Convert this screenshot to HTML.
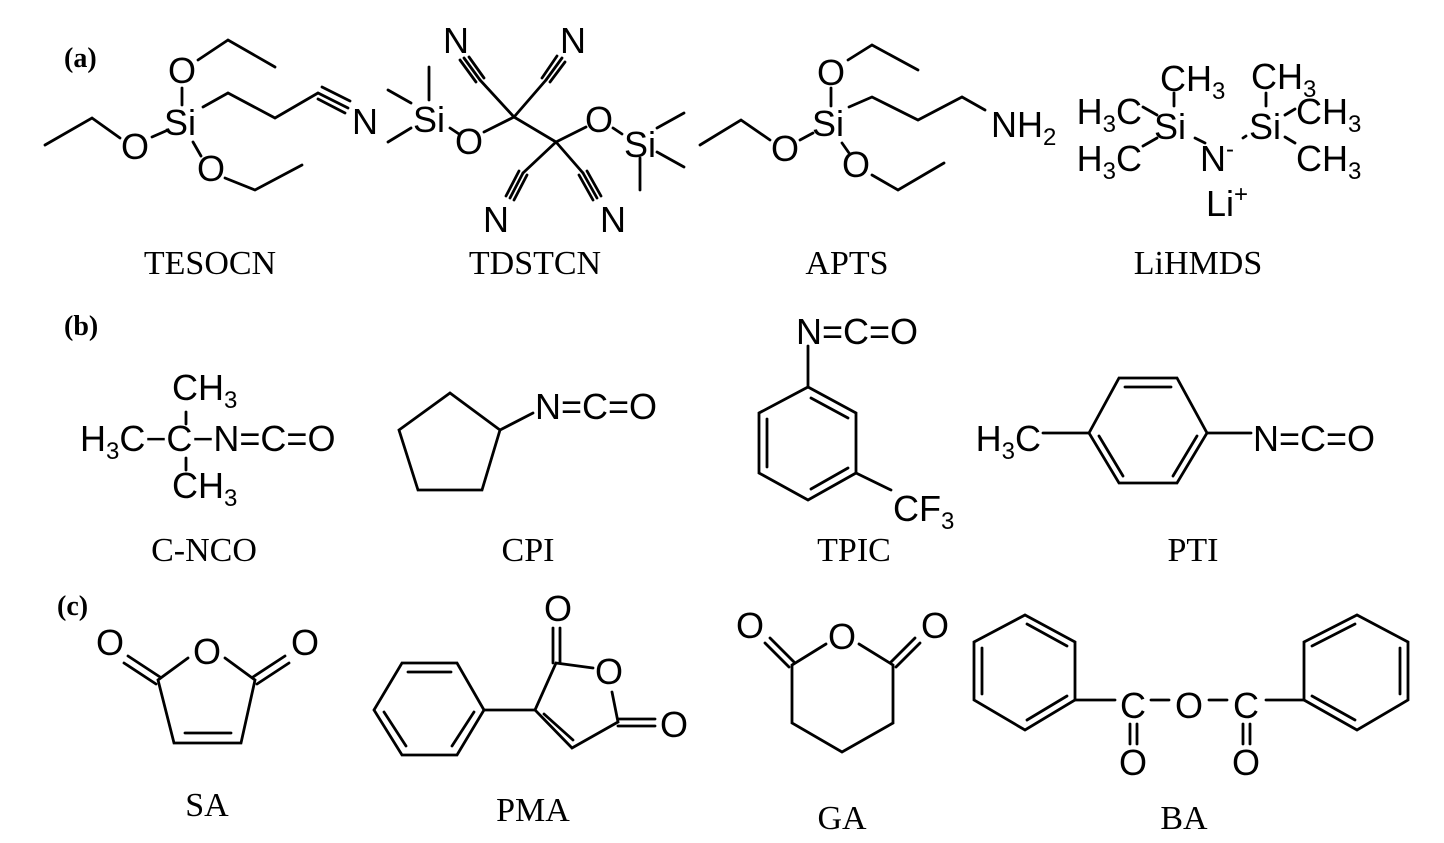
<!DOCTYPE html>
<html><head><meta charset="utf-8"><style>
html,body{margin:0;padding:0;background:#fff;}
svg{display:block}
.a{font-family:"Liberation Sans",Arial,sans-serif;font-size:36px;fill:#000}
.s{font-size:24px}
.l{font-family:"Liberation Serif",serif;font-size:34px;fill:#000}
.b{font-family:"Liberation Serif",serif;font-size:28px;font-weight:bold;fill:#000}
</style></head><body>
<svg width="1444" height="843" viewBox="0 0 1444 843" xmlns="http://www.w3.org/2000/svg">
<g stroke="#000" stroke-width="2.8" fill="none" stroke-linecap="round">
<!-- TESOCN -->
<polyline points="182,88 182,105"/>
<polyline points="198,60 228,40 275,67"/>
<polyline points="203,107 228,93 275,118 318,93 348,108"/>
<line x1="322" y1="87" x2="350" y2="101"/><line x1="318" y1="99" x2="345" y2="113"/>
<polyline points="152,137 168,130"/>
<polyline points="120,138 92,118 45,145"/>
<polyline points="193,142 201,156"/>
<polyline points="225,178 255,190 302,165"/>
<!-- TDSTCN -->
<line x1="429" y1="67" x2="429" y2="100"/>
<line x1="388" y1="90" x2="411" y2="103"/>
<line x1="388" y1="142" x2="411" y2="128"/>
<line x1="450" y1="128" x2="459" y2="134"/>
<line x1="484" y1="132" x2="514" y2="117"/>
<line x1="514" y1="117" x2="556" y2="142"/>
<line x1="514" y1="117" x2="480" y2="80"/>
<line x1="480" y1="80" x2="464" y2="58"/><line x1="484" y1="78" x2="469" y2="57"/><line x1="476" y1="82" x2="460" y2="60"/>
<line x1="514" y1="117" x2="546" y2="80"/>
<line x1="546" y1="80" x2="562" y2="58"/><line x1="550" y1="82" x2="565" y2="62"/><line x1="542" y1="78" x2="557" y2="56"/>
<line x1="556" y1="142" x2="586" y2="127"/>
<line x1="613" y1="128" x2="622" y2="134"/>
<line x1="657" y1="128" x2="684" y2="113"/>
<line x1="657" y1="152" x2="684" y2="167"/>
<line x1="640" y1="158" x2="640" y2="190"/>
<line x1="556" y1="142" x2="523" y2="173"/>
<line x1="523" y1="173" x2="510" y2="198"/><line x1="527" y1="175" x2="514" y2="200"/><line x1="519" y1="171" x2="506" y2="196"/>
<line x1="556" y1="142" x2="583" y2="173"/>
<line x1="583" y1="173" x2="597" y2="198"/><line x1="587" y1="171" x2="601" y2="196"/><line x1="579" y1="175" x2="593" y2="200"/>
<!-- APTS -->
<line x1="831" y1="88" x2="831" y2="106"/>
<polyline points="848,60 872,45 918,70"/>
<polyline points="849,107 872,97 918,120 962,97 985,110"/>
<line x1="800" y1="140" x2="813" y2="133"/>
<polyline points="770,140 741,120 700,145"/>
<line x1="842" y1="143" x2="849" y2="153"/>
<polyline points="872,175 898,190 944,163"/>
<!-- LiHMDS -->
<line x1="1174" y1="93" x2="1174" y2="106"/>
<line x1="1143" y1="107" x2="1157" y2="115"/>
<line x1="1143" y1="146" x2="1157" y2="138"/>
<line x1="1195" y1="138" x2="1205" y2="143"/>
<line x1="1243" y1="138" x2="1246" y2="136"/>
<line x1="1266" y1="93" x2="1266" y2="106"/>
<line x1="1285" y1="115" x2="1295" y2="109"/>
<line x1="1285" y1="137" x2="1295" y2="143"/>
<!-- C-NCO -->
<line x1="186" y1="412" x2="186" y2="424"/>
<line x1="186" y1="458" x2="186" y2="470"/>
<!-- CPI -->
<polygon points="450,393 500,430 482,490 418,490 399,430"/>
<line x1="500" y1="430" x2="533" y2="413"/>
<!-- TPIC -->
<line x1="808" y1="346" x2="808" y2="387"/>
<polygon points="808,387 856,413 856,473 808,500 759,473 759,413"/>
<line x1="811" y1="398" x2="848" y2="418"/>
<line x1="767" y1="419" x2="767" y2="467"/>
<line x1="848" y1="468" x2="811" y2="489"/>
<line x1="856" y1="473" x2="891" y2="490"/>
<!-- PTI -->
<line x1="1043" y1="433" x2="1089" y2="433"/>
<polygon points="1089,433 1119,378 1177,378 1207,433 1177,483 1119,483"/>
<line x1="1125" y1="387" x2="1171" y2="387"/>
<line x1="1099" y1="436" x2="1123" y2="476"/>
<line x1="1197" y1="436" x2="1173" y2="476"/>
<line x1="1207" y1="433" x2="1251" y2="433"/>
<!-- SA -->
<polyline points="188,658 158,680 174,743 241,743 255,680 225,658"/>
<line x1="185" y1="733" x2="231" y2="733"/>
<line x1="160" y1="677" x2="128" y2="656"/><line x1="156" y1="684" x2="124" y2="663"/>
<line x1="253" y1="677" x2="285" y2="656"/><line x1="257" y1="684" x2="289" y2="663"/>
<!-- PMA -->
<polygon points="374,710 402,663 457,663 484,710 457,755 402,755"/>
<line x1="408" y1="672" x2="451" y2="672"/>
<line x1="384" y1="712" x2="406" y2="746"/>
<line x1="474" y1="712" x2="452" y2="746"/>
<line x1="484" y1="710" x2="535" y2="710"/>
<polyline points="593,668 556,663 535,710 572,748 618,722 612,692"/>
<line x1="544" y1="714" x2="573" y2="740"/>
<line x1="553" y1="663" x2="553" y2="628"/><line x1="560" y1="663" x2="560" y2="628"/>
<line x1="618" y1="719" x2="655" y2="719"/><line x1="618" y1="726" x2="655" y2="726"/>
<!-- GA -->
<polyline points="826,644 792,665 792,723 842,752 893,723 893,665 859,644"/>
<line x1="794" y1="662" x2="770" y2="638"/><line x1="789" y1="667" x2="765" y2="643"/>
<line x1="891" y1="662" x2="915" y2="638"/><line x1="896" y1="667" x2="920" y2="643"/>
<!-- BA -->
<polygon points="1025,615 1075,642 1075,700 1025,730 974,700 974,642"/>
<line x1="1027" y1="624" x2="1067" y2="646"/>
<line x1="982" y1="648" x2="982" y2="694"/>
<line x1="1067" y1="696" x2="1027" y2="720"/>
<line x1="1075" y1="700" x2="1115" y2="700"/>
<line x1="1151" y1="700" x2="1169" y2="700"/>
<line x1="1209" y1="700" x2="1227" y2="700"/>
<line x1="1266" y1="700" x2="1304" y2="700"/>
<polygon points="1304,700 1304,642 1357,615 1408,642 1408,700 1357,730"/>
<line x1="1312" y1="646" x2="1355" y2="624"/>
<line x1="1400" y1="648" x2="1400" y2="694"/>
<line x1="1312" y1="696" x2="1355" y2="720"/>
<line x1="1130" y1="724" x2="1130" y2="744"/><line x1="1137" y1="724" x2="1137" y2="744"/>
<line x1="1243" y1="724" x2="1243" y2="744"/><line x1="1250" y1="724" x2="1250" y2="744"/>
</g>
<g class="a" text-anchor="middle">
<text x="182" y="83">O</text>
<text x="180" y="135">Si</text>
<text x="135" y="159">O</text>
<text x="211" y="181">O</text>
<text x="365" y="134">N</text>
<text x="429" y="132">Si</text>
<text x="469" y="154">O</text>
<text x="456" y="53">N</text>
<text x="573" y="53">N</text>
<text x="599" y="132">O</text>
<text x="640" y="157">Si</text>
<text x="496" y="232">N</text>
<text x="613" y="232">N</text>
<text x="831" y="85">O</text>
<text x="828" y="136">Si</text>
<text x="785" y="161">O</text>
<text x="856" y="177">O</text>
<text x="991" y="137" text-anchor="start">NH<tspan class="s" dy="8">2</tspan></text>
<text x="1160" y="91" text-anchor="start">CH<tspan class="s" dy="8">3</tspan></text>
<text x="1251" y="89" text-anchor="start">CH<tspan class="s" dy="8">3</tspan></text>
<text x="1142" y="124" text-anchor="end">H<tspan class="s" dy="8">3</tspan><tspan dy="-8">C</tspan></text>
<text x="1142" y="171" text-anchor="end">H<tspan class="s" dy="8">3</tspan><tspan dy="-8">C</tspan></text>
<text x="1170" y="139">Si</text>
<text x="1265" y="139">Si</text>
<text x="1217" y="171">N<tspan class="s" dy="-14">-</tspan></text>
<text x="1296" y="124" text-anchor="start">CH<tspan class="s" dy="8">3</tspan></text>
<text x="1296" y="171" text-anchor="start">CH<tspan class="s" dy="8">3</tspan></text>
<text x="1227" y="216">Li<tspan class="s" dy="-14">+</tspan></text>
<text x="172" y="400" text-anchor="start">CH<tspan class="s" dy="8">3</tspan></text>
<text x="80" y="451" text-anchor="start">H<tspan class="s" dy="8">3</tspan><tspan dy="-8">C−C−N=C=O</tspan></text>
<text x="172" y="498" text-anchor="start">CH<tspan class="s" dy="8">3</tspan></text>
<text x="535" y="419" text-anchor="start">N=C=O</text>
<text x="796" y="344" text-anchor="start">N=C=O</text>
<text x="893" y="521" text-anchor="start">CF<tspan class="s" dy="8">3</tspan></text>
<text x="1041" y="451" text-anchor="end">H<tspan class="s" dy="8">3</tspan><tspan dy="-8">C</tspan></text>
<text x="1253" y="451" text-anchor="start">N=C=O</text>
<text x="110" y="655">O</text>
<text x="207" y="664">O</text>
<text x="305" y="655">O</text>
<text x="558" y="621">O</text>
<text x="609" y="684">O</text>
<text x="674" y="737">O</text>
<text x="750" y="638">O</text>
<text x="842" y="649">O</text>
<text x="935" y="638">O</text>
<text x="1133" y="718">C</text>
<text x="1189" y="718">O</text>
<text x="1246" y="718">C</text>
<text x="1133" y="775">O</text>
<text x="1246" y="775">O</text>
</g>
<g class="b">
<text x="64" y="67">(a)</text>
<text x="64" y="335">(b)</text>
<text x="57" y="615">(c)</text>
</g>
<g class="l" text-anchor="middle">
<text x="210" y="274">TESOCN</text>
<text x="535" y="274">TDSTCN</text>
<text x="847" y="274">APTS</text>
<text x="1198" y="274">LiHMDS</text>
<text x="204" y="561">C-NCO</text>
<text x="528" y="561">CPI</text>
<text x="854" y="561">TPIC</text>
<text x="1193" y="561">PTI</text>
<text x="207" y="816">SA</text>
<text x="533" y="821">PMA</text>
<text x="842" y="829">GA</text>
<text x="1184" y="829">BA</text>
</g>
</svg>
</body></html>
